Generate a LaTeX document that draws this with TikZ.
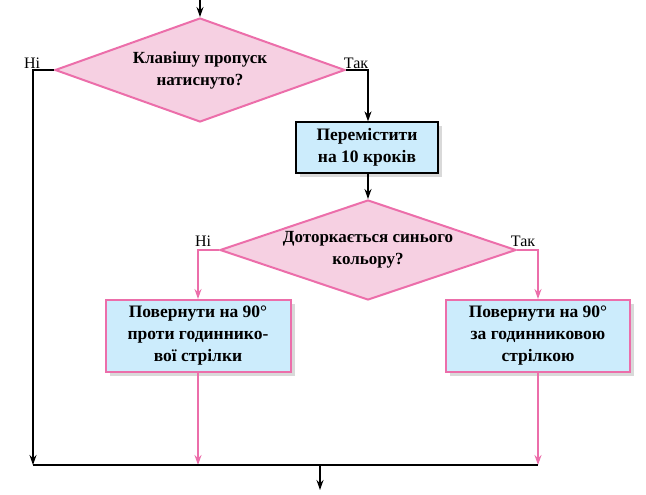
\documentclass[tikz,border=0pt]{standalone}
\usepackage{fontspec}
\setmainfont{Liberation Serif}
\usetikzlibrary{shapes.geometric,arrows.meta,shadows}
\definecolor{pk}{RGB}{236,110,170}
\definecolor{pkfill}{RGB}{246,208,226}
\definecolor{bl}{RGB}{204,236,252}
\tikzset{x=1pt,y=-1pt,
 dia/.style={diamond,draw=pk,line width=2pt,fill=pkfill,aspect=2.8,inner sep=0pt,font=\bfseries\fontsize{17}{22}\selectfont,align=center},
 box/.style={rectangle,draw,line width=1.3pt,fill=bl,font=\bfseries\fontsize{17.5}{22}\selectfont,align=center,drop shadow={shadow xshift=4pt,shadow yshift=-4pt,opacity=0.3}},
 arr/.style={-{Stealth[length=10pt,width=7pt]},line width=1.3pt},
 parr/.style={arr,draw=pk,line width=2pt},
 lbl/.style={font=\fontsize{16}{18}\selectfont}}
\begin{document}
\begin{tikzpicture}
\useasboundingbox (0,0) rectangle (646,495);
\coordinate (top) at (200,0);
\node[dia,minimum width=290pt,minimum height=104pt] (d1) at (200,70) {Клавішу пропуск\\натиснуто?};
\node[box,minimum width=142pt,minimum height=51pt] (b2) at (367,147.5) {Перемістити\\на 10 кроків};
\node[dia,minimum width=296pt,minimum height=100pt] (d2) at (368,250) {Доторкається синього\\кольору?};
\node[box,draw=pk,line width=2pt,minimum width=185pt,minimum height=72pt] (b3) at (198,336) {Повернути на 90°\\проти годиннико-\\вої стрілки};
\node[box,draw=pk,line width=2pt,minimum width=184pt,minimum height=72pt] (b4) at (538,336) {Повернути на 90°\\за годинниковою\\стрілкою};
\node[lbl] (n1) at (32,63) {Ні};
\node[lbl] (t1) at (356,63) {Так};
\node[lbl] (n2) at (203,241) {Ні};
\node[lbl] (t2) at (523,241) {Так};
\coordinate (jl) at (33,465);
\coordinate (jr) at (538,465);
\coordinate (jm) at (320,465);
\coordinate (out) at (320,490);
\draw[arr] (top) -- (d1.north);
\draw[arr] (d1.west) -- (33,70) -- (jl);
\draw[arr] (d1.east) -- (368,70) -- (b2.north -| 368,0);
\draw[arr] (b2.south -| 368,0) -- (d2.north);
\draw[parr] (d2.west) -- (198,250) -- (b3.north);
\draw[parr] (d2.east) -- (538,250) -- (b4.north);
\draw[parr] (b3.south) -- (198,465);
\draw[parr] (b4.south) -- (jr);
\draw[line width=1.3pt] (jl) -- (jr);
\draw[arr] (jm) -- (out);
\end{tikzpicture}
\end{document}
